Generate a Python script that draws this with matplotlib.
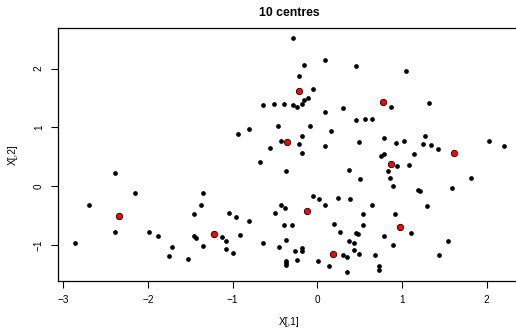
import numpy as np
import matplotlib
matplotlib.use("Agg")
import matplotlib.pyplot as plt
from matplotlib import rcParams

# ===== global style (R base-graphics look) =====
rcParams.update({
    'font.family': ['Liberation Sans', 'DejaVu Sans'],
    'axes.unicode_minus': True,
    'font.size': 7.2,
})

# ===== data: X[,1], X[,2] =====
x1 = [-0.283, -0.157, 0.094, 0.453, -0.220, -0.051, -0.157, -0.113, -0.638, -0.511,
      -0.390, -0.283, -0.240, -0.177, 0.094, 0.307, 0.453, -0.933, -0.806, -0.468,
      -0.090, 0.158, -0.177, 0.496, -0.429, -0.220, -0.555, 0.094, -0.177,
      1.044, 0.874, 1.315, 0.560, 0.646, 0.791, 0.933, 1.024, 1.272, 1.251,
      1.339, 1.421, 2.031, 2.201, 0.749, 0.791, 1.145,
      -0.680, -0.370, 0.371, 0.504, -0.051, 0.017, 0.094, 0.244, 0.390, -0.429,
      -0.385, -0.496, -1.039, -0.956, -0.810, -0.390, -0.302, 0.201, 0.264, 0.453,
      0.477, -1.122, -1.078, -0.909, -0.638, -0.366, 0.371, 0.433, -1.078, -0.995,
      -0.449, -0.263, -0.177, -0.177, 0.433, 0.492, 0.303, 0.351, -0.240, 0.012,
      -0.366, -0.366, -0.366, 0.138, 0.351,
      0.937, 1.083, 0.831, 0.855, 1.818, 0.897, 1.192, 1.213, 1.590, 0.642,
      1.295, 0.536, 0.917, 0.536, 1.106, 0.791, 0.897, 1.547, 0.685, 1.440,
      0.728, 0.728,
      -2.385, -2.152, -2.699, -2.385, -2.864, -1.983, -1.877, -1.459, -1.377, -1.353,
      -1.459, -1.436, -1.353, -1.712, -1.751, -1.523]
x2 = [2.525, 2.056, 2.147, 2.039, 1.869, 1.656, 1.475, 1.503, 1.385, 1.402,
      1.402, 1.385, 1.356, 1.402, 1.259, 1.327, 1.119, 0.886, 0.966, 1.017,
      1.017, 0.932, 0.859, 0.758, 0.763, 0.717, 0.649, 0.690, 0.559,
      1.954, 1.344, 1.424, 1.147, 1.136, 0.819, 0.734, 0.775, 0.859, 0.717,
      0.695, 0.632, 0.775, 0.690, 0.508, 0.547, 0.547,
      0.412, 0.254, 0.271, 0.114, -0.164, -0.225, -0.322, -0.208, -0.220, -0.317,
      -0.373, -0.458, -0.458, -0.525, -0.598, -0.656, -0.656, -0.644, -0.775, -0.802,
      -0.819, -0.864, -0.927, -0.831, -0.971, -0.910, -0.932, -0.971, -1.068, -1.136,
      -1.029, -1.097, -1.056, -1.097, -1.085, -1.153, -1.164, -1.208, -1.249, -1.271,
      -1.271, -1.305, -1.334, -1.361, -1.463,
      0.351, 0.361, 0.259, 0.147, 0.147, 0.005, -0.063, -0.085, -0.034, -0.322,
      -0.344, -0.475, -0.475, -0.656, -0.802, -0.842, -1.005, -0.932, -1.175, -1.169,
      -1.356, -1.429,
      0.225, -0.119, -0.322, -0.775, -0.971, -0.785, -0.842, -0.475, -0.322, -0.119,
      -0.842, -0.881, -1.012, -1.034, -1.192, -1.242]

# ===== the 10 cluster centres =====
c1 = [-0.213, -0.358, 0.776, 1.614, -2.338, -0.122, -1.223, 0.182, 0.867, 0.973]
c2 = [1.627, 0.746, 1.436, 0.559, -0.514, -0.429, -0.808, -1.147, 0.378, -0.700]

title = "10 centres"
xticks = [-3, -2, -1, 0, 1, 2]
yticks = [-1, 0, 1, 2]

# ===== plot =====
fig = plt.figure(figsize=(5.16, 3.33), dpi=100)
ax = fig.add_axes([0.1118, 0.1547, 0.8977, 0.7598])

ax.plot(x1, x2, 'o', color='black', markersize=3.4, markeredgewidth=0)
ax.plot(c1, c2, 'o', markerfacecolor='red', markeredgecolor='black',
        markersize=4.6, markeredgewidth=0.6)

# R-style 4% padding on data range
def rlim(v):
    lo, hi = min(v), max(v)
    d = (hi - lo) * 0.04
    return lo - d, hi + d

ax.set_xlim(*rlim(x1))
ax.set_ylim(*rlim(x2))

ax.set_xticks(xticks)
ax.set_yticks(yticks)
ax.tick_params(length=5, width=0.8, pad=5, labelsize=7.2)
for lbl in ax.get_yticklabels():
    lbl.set_rotation(90)
    lbl.set_va('center')
for s in ax.spines.values():
    s.set_linewidth(0.9)

ax.set_xlabel("X[,1]", fontsize=7.2)
ax.xaxis.set_label_coords(0.5, -0.160)
ax.xaxis.label.set_va('center')
ax.set_ylabel("X[,2]", fontsize=7.2)
ax.yaxis.set_label_coords(-0.0965, 0.5)
ax.yaxis.label.set_va('center')
ax.text(0.5, 1.061, title, transform=ax.transAxes, ha='center', va='center',
        fontsize=8.8, fontweight='bold')

fig.savefig("out.png", dpi=100)
